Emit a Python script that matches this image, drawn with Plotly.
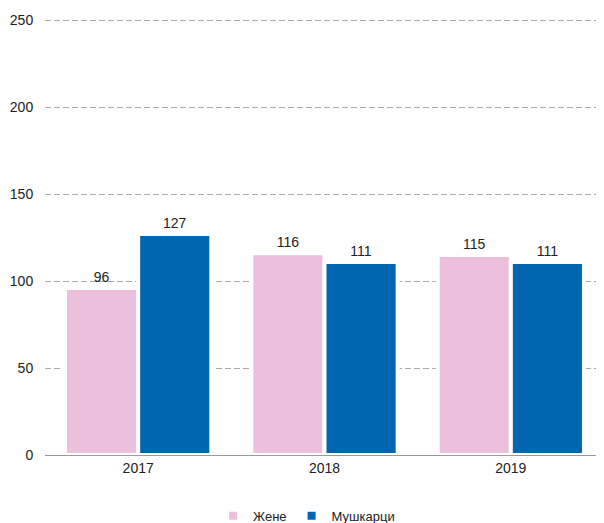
import plotly.graph_objects as go

years = ["2017", "2018", "2019"]
women = [96, 116, 115]
men = [127, 111, 111]
names = ["Жене", "Мушкарци"]
colors = ["#ecc0dd", "#0066b0"]

fig = go.Figure()
for name, vals, col in zip(names, [women, men], colors):
    fig.add_trace(go.Bar(x=years, y=vals, name=name, text=vals,
                         textposition="outside", cliponaxis=False,
                         textfont=dict(size=14, color="#222"),
                         marker=dict(color=col, line=dict(color="white", width=4))))

# page body has an 8px margin, so the figure is shifted by that amount
fig.update_layout(
    width=596, height=523,
    margin=dict(l=37, r=0, t=11, b=76),
    plot_bgcolor="white", paper_bgcolor="white",
    font=dict(family="Liberation Sans, Arial", size=14, color="#222"),
    barmode="group", bargap=0.215,
    legend=dict(orientation="h", x=0.468, xanchor="center", y=-0.105, yanchor="top",
                font=dict(size=13), itemwidth=30),
)
fig.update_xaxes(type="category", showline=True, linecolor="#999", automargin=False)
fig.update_yaxes(range=[0, 250.6], tickvals=[0, 50, 100, 150, 200, 250],
                 gridcolor="#aaa", griddash="6px,3px", automargin=False,
                 zeroline=False, ticks="outside", ticklen=8,
                 tickcolor="rgba(0,0,0,0)")

fig.write_html("out.html")
